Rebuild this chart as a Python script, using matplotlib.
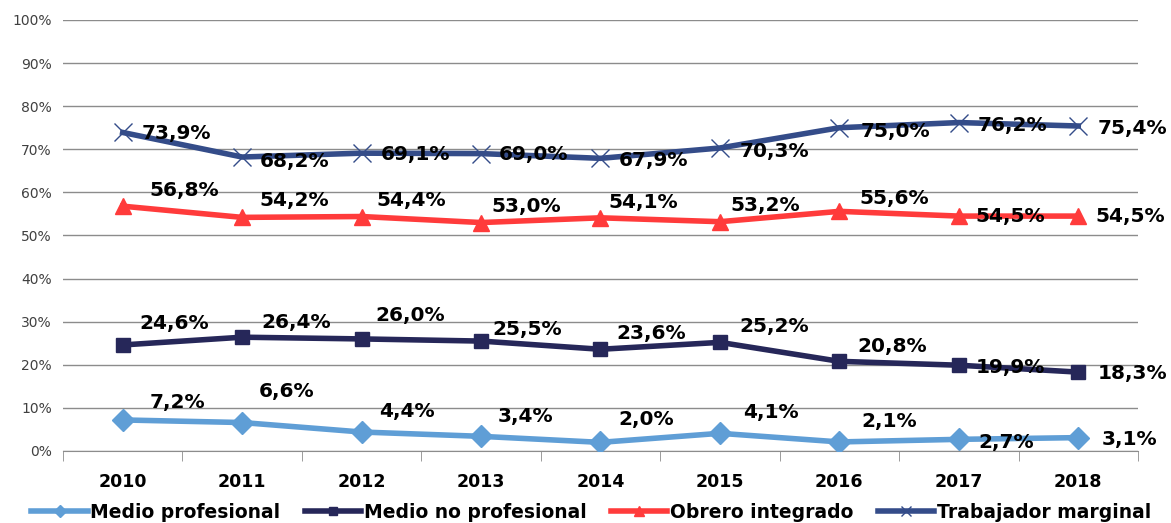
import matplotlib
matplotlib.use("Agg")
import matplotlib.pyplot as plt
from matplotlib.ticker import FixedLocator, PercentFormatter

years = ["2010", "2011", "2012", "2013", "2014", "2015", "2016", "2017", "2018"]
medio_prof = [7.2, 6.6, 4.4, 3.4, 2.0, 4.1, 2.1, 2.7, 3.1]
medio_no_prof = [24.6, 26.4, 26.0, 25.5, 23.6, 25.2, 20.8, 19.9, 18.3]
obrero = [56.8, 54.2, 54.4, 53.0, 54.1, 53.2, 55.6, 54.5, 54.5]
trabajador = [73.9, 68.2, 69.1, 69.0, 67.9, 70.3, 75.0, 76.2, 75.4]

# label offsets in pixels (dx right, dy up) from each point, as placed in the original
off_prof = [(27, 17), (17, 31), (18, 21), (17, 20), (18, 23), (23, 21), (22, 20), (20, -3), (23, -2)]
off_no_prof = [(17, 21), (19, 15), (14, 23), (11, 12), (16, 16), (19, 16), (18, 15), (17, -2), (19, -1)]
off_obrero = [(27, 16), (17, 17), (15, 16), (10, 16), (8, 15), (11, 16), (20, 13), (17, 0), (17, 0)]
off_trab = [(19, -1), (18, -4), (19, -1), (18, -1), (18, -2), (20, -4), (21, -4), (19, -3), (19, -2)]

series = [
    ("Medio profesional", medio_prof, "#5f9ed6", "D", 11, off_prof),
    ("Medio no profesional", medio_no_prof, "#262759", "s", 10, off_no_prof),
    ("Obrero integrado", obrero, "#ff3b3b", "^", 11, off_obrero),
    ("Trabajador marginal", trabajador, "#344c89", "x", 13, off_trab),
]

plt.rcParams["font.family"] = ["DejaVu Sans"]

fig = plt.figure(figsize=(11.71, 5.23), dpi=100)
ax = fig.add_axes([0.0538, 0.1377, 0.918, 0.8241])

x = list(range(len(years)))
for name, vals, color, marker, ms, offs in series:
    if marker == "x":
        ax.plot(x, vals, color=color, lw=4, marker=marker, ms=ms, mew=1.0,
                label=name, zorder=3)
    else:
        ax.plot(x, vals, color=color, lw=4, marker=marker, ms=ms, mec=color,
                label=name, zorder=3)
    for xi, v, (dx, dy) in zip(x, vals, offs):
        ax.annotate(f"{v:.1f}%".replace(".", ","), (xi, v), xytext=(dx, dy),
                    textcoords="offset pixels", ha="left", va="center",
                    fontsize=14.5, fontweight="bold", color="black", zorder=4)

ax.set_xlim(-0.5, len(years) - 0.5)
ax.set_ylim(0, 100)
ax.set_yticks(range(0, 101, 10))
ax.yaxis.set_major_formatter(PercentFormatter(decimals=0))
ax.grid(axis="y", color="#8c8c8c", lw=1)
ax.set_axisbelow(True)

ax.set_xticks(x)
ax.set_xticklabels(years, fontsize=12.5, fontweight="bold")
ax.xaxis.set_minor_locator(FixedLocator([i - 0.5 for i in range(len(years) + 1)]))
ax.tick_params(axis="x", which="major", length=0, pad=16)
ax.tick_params(axis="x", which="minor", length=7, color="#8c8c8c", direction="out")
ax.tick_params(axis="y", length=0, labelsize=10, labelcolor="#404040", pad=8)

for s in ["top", "right", "left"]:
    ax.spines[s].set_visible(False)
ax.spines["bottom"].set_color("#8c8c8c")

fig.legend(loc="lower center", bbox_to_anchor=(0.505, -0.03), ncol=4, frameon=False,
           prop={"size": 13.5, "weight": "bold"}, handlelength=3.0, markerscale=0.6,
           handletextpad=0.15, columnspacing=1.3, numpoints=1)

fig.savefig("out.png", dpi=100)
